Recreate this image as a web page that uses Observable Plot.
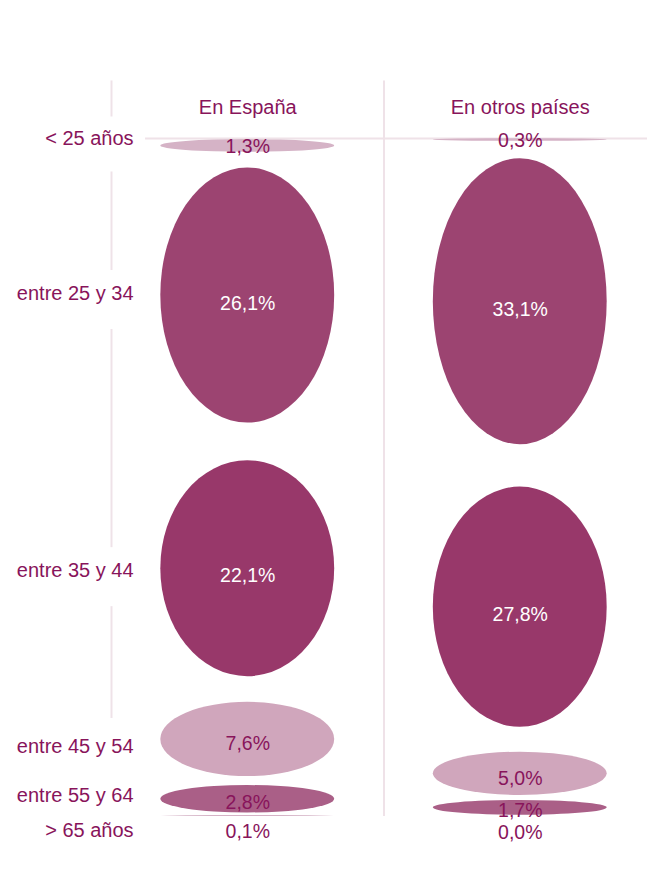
<!DOCTYPE html>
<html>
<head>
<meta charset="utf-8">
<script src="https://cdn.jsdelivr.net/npm/d3@7"></script>
<script src="https://cdn.jsdelivr.net/npm/@observablehq/plot@0.6"></script>
<style>
  html, body { margin: 0; padding: 0; background: #ffffff; }
  #chart svg { display: block; }
</style>
</head>
<body>
<div id="chart"></div>
<script>
// ---- data ----
const columns = ["En España", "En otros países"];
const ageGroups = ["< 25 años", "entre 25 y 34", "entre 35 y 44", "entre 45 y 54", "entre 55 y 64", "> 65 años"];
const espana = [1.3, 26.1, 22.1, 7.6, 2.8, 0.1];
const otros = [0.3, 33.1, 27.8, 5.0, 1.7, 0.0];
const rowColors = ["#d5b3c6", "#9c4471", "#98386a", "#d0a6bc", "#aa5f87", "#d5b3c6"];

// ---- style ----
const textColor = "#88145b";
const lineColor = "#efe2e8";
const font = "Liberation Sans, Arial, Helvetica, sans-serif";
const ellipseShift = [12, 4, 0, 0, 0, 0];
const valueShift = [13, 12, 7.5, 4.5, 3, 16];
const labelShift = [5, 2, 2, 7, -4, 15];

// stacked layout per column, each column normalised to 100
function build(values, col) {
  const total = d3.sum(values);
  let cum = 0;
  return values.map((v, i) => {
    const share = v / total * 100;
    const r = {
      col, group: ageGroups[i], row: i, value: v,
      y1: cum + share * 0.075,
      y2: cum + share * 0.925,
      yc: cum + share / 2
    };
    cum += share;
    return r;
  });
}
const rows = [...build(espana, 0), ...build(otros, 1)];
const espRows = rows.filter(d => d.col === 0);
const halfW = 0.319;
const fmt = v => v.toFixed(1).replace(".", ",") + "%";

const sepTop = -6.6;
const segs = espRows.slice(0, 4).map((d, i) => ({y1: d.yc, y2: espRows[i + 1].yc}));

const perRow = [];
ageGroups.forEach((g, i) => {
  const rr = rows.filter(d => d.row === i);
  perRow.push(
    Plot.rect(rr, {
      x1: d => d.col - halfW, x2: d => d.col + halfW,
      y1: "y1", y2: "y2",
      fill: "group", rx: 10000, ry: 10000, dy: ellipseShift[i]
    })
  );
});
const labelMarks = [];
ageGroups.forEach((g, i) => {
  const rr = rows.filter(d => d.row === i);
  labelMarks.push(
    Plot.text(rr, {
      x: "col", y: "yc", text: d => fmt(d.value),
      fill: d => d.value > 20 ? "#ffffff" : textColor,
      fontSize: 19.5, dy: valueShift[i]
    }),
    Plot.text(espRows.filter(d => d.row === i), {
      x: -0.419, y: "yc", text: "group", textAnchor: "end",
      fill: textColor, fontSize: 20, dy: labelShift[i]
    })
  );
});

const chart = Plot.plot({
  width: 647,
  height: 893,
  margin: 0,
  style: {fontFamily: font, background: "#ffffff"},
  x: {domain: [-0.5, 0.5], range: [111, 383.5], axis: null},
  y: {domain: [0, 100], range: [126, 816], axis: null},
  color: {type: "ordinal", domain: ageGroups, range: rowColors},
  marks: [
    // column separators
    Plot.ruleX([0.5], {y1: sepTop, y2: 100, stroke: lineColor, strokeWidth: 2}),
    Plot.ruleX([{y1: sepTop, y2: espRows[0].yc}], {x: -0.5, y1: "y1", y2: "y2", stroke: lineColor, strokeWidth: 2, insetBottom: 17}),
    Plot.ruleX(segs.slice(0, 3), {x: -0.5, y1: "y1", y2: "y2", stroke: lineColor, strokeWidth: 2, insetTop: 38, insetBottom: 21}),
    // horizontal guide at the first row
    Plot.ruleY([espRows[0]], {y: "yc", x1: -0.375, x2: 1.47, stroke: lineColor, strokeWidth: 2, dy: 4.5}),
    // ellipses
    ...perRow,
    // column headers
    Plot.text(columns, {x: (d, i) => i, y: sepTop + 3.8, text: d => d, fill: textColor, fontSize: 20}),
    // value and row labels
    ...labelMarks
  ]
});
document.getElementById("chart").appendChild(chart);
</script>
</body>
</html>
